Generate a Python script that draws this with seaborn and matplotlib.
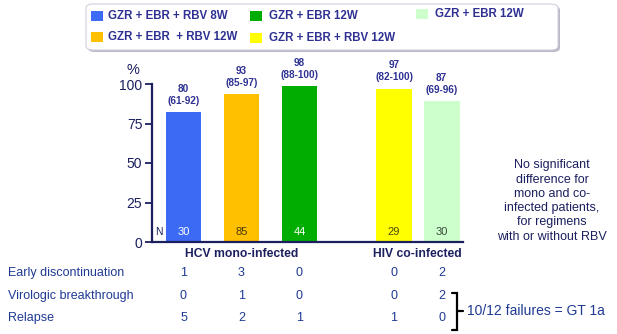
import matplotlib
matplotlib.use("Agg")
import matplotlib.pyplot as plt
import matplotlib.transforms as mtransforms
from matplotlib.patches import FancyBboxPatch, Rectangle
from matplotlib.lines import Line2D
import seaborn as sns
import pandas as pd

# ---------------- data ----------------
regimens = ["GZR + EBR + RBV 8W", "GZR + EBR  + RBV 12W", "GZR + EBR 12W",
            "GZR + EBR + RBV 12W", "GZR + EBR 12W "]
bar_heights = [82, 93.5, 98.5, 97, 89]          # bar tops as drawn (%)
svr_labels = ["80", "93", "98", "97", "87"]
ci_labels = ["(61-92)", "(85-97)", "(88-100)", "(82-100)", "(69-96)"]
n_labels = ["30", "85", "44", "29", "30"]
groups = ["HCV mono-infected", "HIV co-infected"]
group_of_bar = [0, 0, 0, 1, 1]
row_labels = ["Early discontinuation", "Virologic breakthrough", "Relapse"]
early_disc = ["1", "3", "0", "0", "2"]
vir_break = ["0", "1", "0", "0", "2"]
relapse = ["5", "2", "1", "1", "0"]
yticks = [0, 25, 50, 75, 100]
note = "No significant\ndifference for\nmono and co-\ninfected patients,\nfor regimens\nwith or without RBV"
failures_note = "10/12 failures = GT 1a"

# ---------------- style ----------------
colors = ["#3D6AF5", "#FFC000", "#00AD00", "#FFFF00", "#CCFFCC"]
n_colors = ["white", "#4A3A10", "white", "#4A4A10", "#3A4A3A"]
navy = "#2E3192"
dark = "#1B1F5E"
tbl = "#1F3A93"
positions = [0, 1, 2, 3.63, 4.45]   # layout slots of the bars

W, H = 617, 334
sns.set_theme(style="white")
plt.rcParams["font.family"] = ["Liberation Sans", "DejaVu Sans"]

fig = plt.figure(figsize=(W / 100, H / 100), dpi=100)
fig.patch.set_facecolor("white")

def fx(x):
    return x / W

def fy(y):
    return 1 - y / H

ax = fig.add_axes([fx(152), fy(242), (463 - 152) / W, (242 - 84) / H])
ax.set_facecolor("white")

df = pd.DataFrame({"pos": positions, "pct": bar_heights, "reg": [f"r{i}" for i in range(5)]})
sns.barplot(data=df, x="pos", y="pct", hue="reg", palette=colors, native_scale=True,
            width=0.62 / 0.82, legend=False, ax=ax, saturation=1, edgecolor="none")

ax.set_xlim(-0.543, 4.819)
ax.set_ylim(0, 100)
ax.set_xticks([])
ax.set_yticks(yticks)
ax.set_yticklabels([str(t) for t in yticks], fontsize=10, color=dark)
ax.tick_params(axis="y", direction="out", length=5, width=1.3, color=dark, pad=2, left=True)
ax.set_xlabel("")
ax.set_ylabel("")
for s in ["top", "right"]:
    ax.spines[s].set_visible(False)
for s in ["left", "bottom"]:
    ax.spines[s].set_color(dark)
    ax.spines[s].set_linewidth(1.6)

ax.text(fx(133), fy(70), "%", transform=fig.transFigure, fontsize=10.5,
        color=dark, ha="center", va="center")

# labels above bars
for p, h, s, c in zip(positions, bar_heights, svr_labels, ci_labels):
    ax.annotate(c, (p, h), xytext=(0, 8.2), textcoords="offset points",
                ha="center", va="center", fontsize=7.2, fontweight="bold", color=navy,
                annotation_clip=False)
    ax.annotate(s, (p, h), xytext=(0, 16.8), textcoords="offset points",
                ha="center", va="center", fontsize=7.2, fontweight="bold", color=navy,
                annotation_clip=False)

# N labels
for p, n, c in zip(positions, n_labels, n_colors):
    ax.text(p, 6.3, n, ha="center", va="center", fontsize=8, color=c)
ax.text(-0.42, 6.3, "N", ha="center", va="center", fontsize=7.5, color=dark)

blend = mtransforms.blended_transform_factory(ax.transData, fig.transFigure)

# group labels
for gi, g in enumerate(groups):
    ps = [p for p, gg in zip(positions, group_of_bar) if gg == gi]
    cx = sum(ps) / len(ps) if gi == 1 else ps[1]
    ax.text(cx, fy(254), g, transform=blend, ha="center", va="center",
            fontsize=8.7, fontweight="bold", color=dark)

# table
for ry, lab, vals in zip([273, 296, 318], row_labels, [early_disc, vir_break, relapse]):
    fig.text(fx(8), fy(ry), lab, ha="left", va="center", fontsize=9, color=tbl)
    for p, v in zip(positions, vals):
        ax.text(p, fy(ry), v, transform=blend, ha="center", va="center",
                fontsize=9, color=tbl)

# bracket
bk = dict(color="black", linewidth=1.6, transform=fig.transFigure)
fig.add_artist(Line2D([fx(452), fx(457), fx(457), fx(452)],
                      [fy(293), fy(293), fy(330), fy(330)], solid_joinstyle="miter", **bk))
fig.add_artist(Line2D([fx(457), fx(463)], [fy(311), fy(311)], **bk))
fig.text(fx(467), fy(311), failures_note, ha="left", va="center", fontsize=10, color=tbl)

# note
fig.text(fx(552), fy(201), note, ha="center", va="center", fontsize=9, color=dark,
         linespacing=1.25)

# legend box
shadow = FancyBboxPatch((fx(88), fy(52)), fx(558 - 86), (50 - 4) / H,
                        boxstyle="round,pad=0,rounding_size=0.012",
                        transform=fig.transFigure, facecolor="#B8B8C8", edgecolor="none")
box = FancyBboxPatch((fx(86), fy(50)), fx(558 - 86), (50 - 4) / H,
                     boxstyle="round,pad=0,rounding_size=0.012",
                     transform=fig.transFigure, facecolor="white", edgecolor="#D0D0DC",
                     linewidth=0.8)
fig.add_artist(shadow)
fig.add_artist(box)

leg = [  # (square x, center y, text x)
    (91, 16, 108), (91, 37, 108), (250, 16, 269), (250, 38, 269), (416, 14, 435)
]
for (sx, cy, tx), col, lab in zip(leg, colors, regimens):
    fig.add_artist(Rectangle((fx(sx), fy(cy + 5)), fx(12), 10 / H,
                             transform=fig.transFigure, facecolor=col, edgecolor="none"))
    fig.text(fx(tx), fy(cy), lab.rstrip(), ha="left", va="center", fontsize=8.3,
             fontweight="bold", color=navy)

fig.savefig("out.png", dpi=100, facecolor="white")
